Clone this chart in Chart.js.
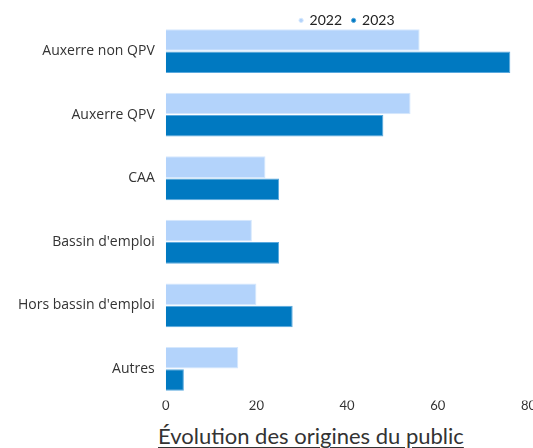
<!DOCTYPE html>
<html lang="fr">
<head>
<meta charset="utf-8">
<script src="https://cdn.jsdelivr.net/npm/chart.js@4/dist/chart.umd.min.js"></script>
<style>
    html, body { margin: 0; padding: 0; background: #fff; }
    #wrap { position: relative; width: 533px; height: 448px; }
    #box { position: absolute; left: 0; top: 0; width: 533px; height: 420px; }
    #titre {
        position: absolute; left: 158px; top: 422px;
        font-family: Lato, "Noto Sans", sans-serif; font-size: 22px;
        color: #333; text-decoration: underline; text-underline-offset: 3px;
        white-space: nowrap;
    }
</style>
</head>
<body>
<div id="wrap">
    <div id="box"><canvas id="originesChart"></canvas></div>
    <div id="titre">Évolution des origines du public</div>
</div>
<script>
// Données
const categories = ['Auxerre non QPV', 'Auxerre QPV', 'CAA', "Bassin d'emploi", "Hors bassin d'emploi", 'Autres'];
const annees     = ['2022', '2023'];
const valeurs2022 = [56, 54, 22, 19, 20, 16];
const valeurs2023 = [76, 48, 25, 25, 28, 4];
const ticksX      = [0, 20, 40, 60, 80];

// La légende déborde sur la zone du graphique (comme sur l'original)
const legendeCompacte = {
    id: 'legendeCompacte',
    beforeInit(chart) {
        const fitOrig = chart.legend.fit;
        chart.legend.fit = function () {
            fitOrig.call(this);
            this.height -= 18;
        };
    },
    afterLayout(chart) {
        // on rend à la légende sa hauteur pour le dessin (sinon texte coupé)
        const leg = chart.legend;
        leg.height += 18;
        leg.bottom = leg.top + leg.height;
    }
};

const ctx = document.getElementById('originesChart');

new Chart(ctx, {
    type: 'bar',
    data: {
        labels: categories,
        datasets: [{
            label: annees[0],
            data: valeurs2022,
            backgroundColor: '#b3d3fb',
            borderColor: '#d6e8fd',
            borderWidth: 1,
            categoryPercentage: 0.7,
            barPercentage: 0.97
        }, {
            label: annees[1],
            data: valeurs2023,
            backgroundColor: '#0079c1',
            borderColor: '#5aa9de',
            borderWidth: 1,
            categoryPercentage: 0.7,
            barPercentage: 0.97
        }]
    },
    options: {
        indexAxis: 'y',
        responsive: true,
        maintainAspectRatio: false,
        animation: false,
        layout: { padding: { left: 7, right: 0, top: 0, bottom: 0 } },
        plugins: {
            legend: {
                position: 'top',
                fullSize: false,
                labels: {
                    usePointStyle: true,
                    pointStyle: 'circle',
                    boxWidth: 3,
                    boxHeight: 3,
                    padding: 10,
                    color: '#222',
                    font: { family: 'Lato, "Noto Sans", sans-serif', size: 14 }
                }
            },
            tooltip: { enabled: false }
        },
        scales: {
            x: {
                min: ticksX[0],
                max: ticksX[ticksX.length - 1],
                afterBuildTicks: axis => { axis.ticks = ticksX.map(v => ({ value: v })); },
                grid: { display: false, drawTicks: false },
                border: { display: false },
                ticks: {
                    padding: -3,
                    color: '#333',
                    font: { family: 'Lato, "Noto Sans", sans-serif', size: 13 }
                }
            },
            y: {
                grid: { display: false, drawTicks: false },
                border: { display: false },
                ticks: {
                    padding: 11,
                    color: '#333',
                    font: { family: '"Open Sans", sans-serif', size: 14 }
                }
            }
        }
    },
    plugins: [legendeCompacte]
});
</script>
</body>
</html>
